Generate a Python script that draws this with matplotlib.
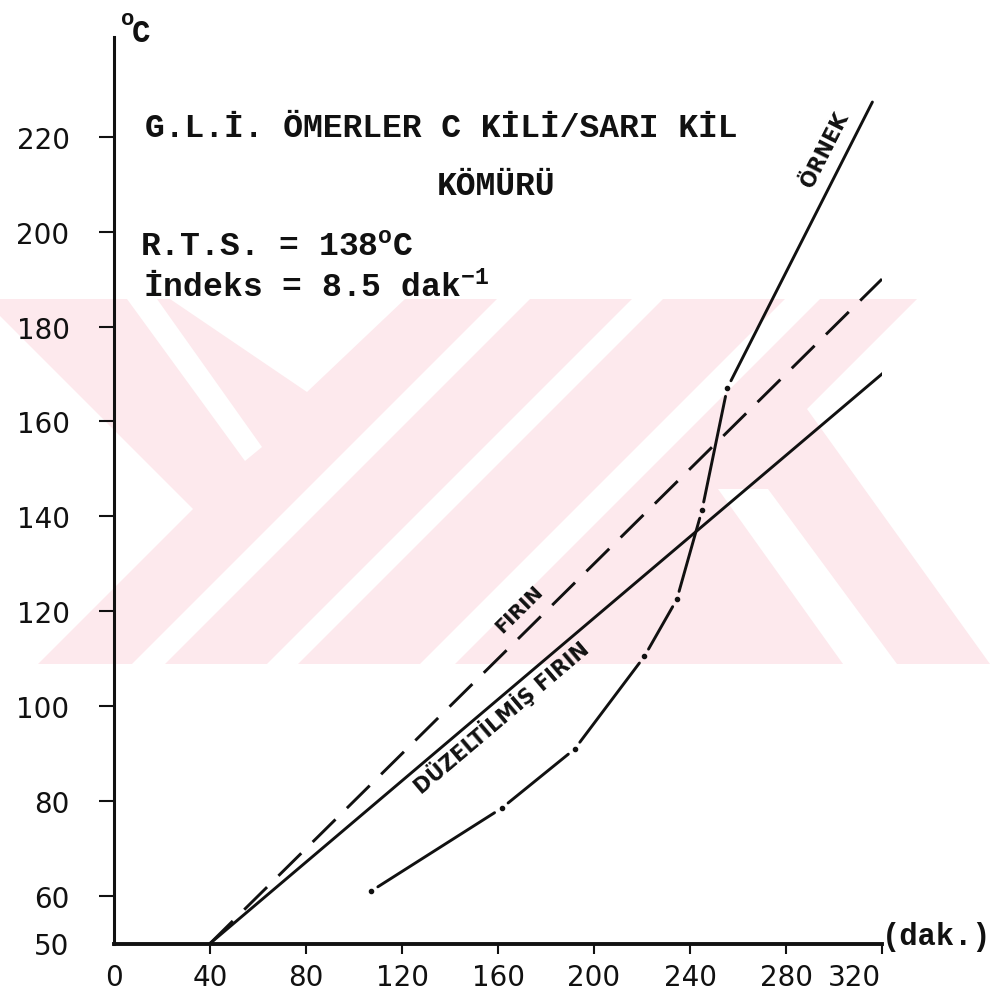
"""Furnace / sample temperature curve (G.L.I. Omerler C kili / sari kil komuru)."""

import numpy as np
import matplotlib
matplotlib.use("Agg")
import matplotlib.pyplot as plt
from matplotlib.patches import Polygon
from matplotlib.transforms import ScaledTranslation

# ── Data ──────────────────────────────────────────────────────────────────
time_ticks = [0, 40, 80, 120, 160, 200, 240, 280, 320]          # dak.
temp_ticks = [50, 60, 80, 100, 120, 140, 160, 180, 200, 220]    # °C

firin_t = [40, 320]
firin_T = [50, 190]

duzeltilmis_t = [40, 320]
duzeltilmis_T = [50, 170]

ornek_t = [107, 161.5, 192, 221, 234.5, 245, 255.5, 316]
ornek_T = [61, 78.5, 91, 110.5, 122.5, 141.3, 167, 227.3]

# ── Style ─────────────────────────────────────────────────────────────────
W, H, DPI = 998, 1003, 100
INK = "#111111"
PINK = "#fde9ed"
MONO = "Liberation Mono"
LW = 2.1

plt.rcParams["mathtext.fontset"] = "custom"
plt.rcParams["mathtext.rm"] = "Liberation Mono:bold"
plt.rcParams["mathtext.it"] = "Liberation Mono:bold"
plt.rcParams["mathtext.bf"] = "Liberation Mono:bold"

# background stamp, in pixels (y down): pink band with white cut-outs
STAMP_BASE = [(0, 300), (917, 300), (807, 410), (990, 665), (0, 665)]
STAMP_GAPS = [
    [(0, 317), (193, 510), (38, 665), (0, 665)],
    [(127, 300), (157, 300), (262, 448), (245, 462)],
    [(170, 300), (405, 300), (307, 393)],
    [(497, 300), (530, 300), (165, 665), (132, 665)],
    [(632, 300), (663, 300), (298, 665), (267, 665)],
    [(785, 300), (820, 300), (455, 665), (420, 665)],
    [(718, 490), (768, 490), (897, 665), (843, 665)],
]

fig = plt.figure(figsize=(W / DPI, H / DPI), dpi=DPI)
fig.patch.set_facecolor("white")

bg = fig.add_axes([0, 0, 1, 1], zorder=0)
bg.set_xlim(0, W)
bg.set_ylim(H, 0)
bg.axis("off")
bg.add_patch(Polygon(STAMP_BASE, closed=True, fc=PINK, ec="none"))
for poly in STAMP_GAPS:
    bg.add_patch(Polygon(poly, closed=True, fc="white", ec="none"))

# axes: x 0..320 -> px 114..882, y 50..241 -> px 944..38
ax = fig.add_axes([114 / W, 1 - 944.5 / H, 768 / W, 906.5 / H], zorder=1)
ax.patch.set_alpha(0)
ax.set_xlim(0, 320)
ax.set_ylim(50, 241)

for side in ("top", "right"):
    ax.spines[side].set_visible(False)
ax.spines["left"].set_linewidth(2.2)
ax.spines["bottom"].set_linewidth(2.8)
ax.spines["left"].set_color(INK)
ax.spines["bottom"].set_color(INK)

ax.set_xticks(time_ticks)
ax.set_xticklabels([str(t) for t in time_ticks])
ax.set_yticks(temp_ticks)
ax.set_yticklabels([str(t) for t in temp_ticks])
ax.tick_params(axis="x", direction="out", length=7, width=1.5, pad=7,
               labelsize=20, colors=INK)
ax.tick_params(axis="y", direction="out", length=11, width=1.5, pad=21,
               labelsize=20, colors=INK)
ax.xaxis.get_major_ticks()[0].tick1line.set_visible(False)
ax.yaxis.get_major_ticks()[0].tick1line.set_visible(False)

# last x label sits a little left of its tick
last = ax.get_xticklabels()[-1]
last.set_transform(last.get_transform()
                   + ScaledTranslation(-20 / 72, 0, fig.dpi_scale_trans))

# ── Curves ────────────────────────────────────────────────────────────────
ax.plot(firin_t, firin_T, color=INK, lw=LW, dashes=(11, 5.5),
        solid_capstyle="butt")
ax.plot(duzeltilmis_t, duzeltilmis_T, color=INK, lw=LW)

# sample curve: chain line broken at each reading with a dot
pts = list(zip(ornek_t, ornek_T))
for i, (p0, p1) in enumerate(zip(pts[:-1], pts[1:])):
    end_gap = 0 if i == len(pts) - 2 else 6
    ax.annotate("", xy=p1, xytext=p0,
                arrowprops=dict(arrowstyle="-", lw=LW, color=INK,
                                shrinkA=6, shrinkB=end_gap))
ax.plot(ornek_t[:-1], ornek_T[:-1], ls="none", marker="o", ms=3.0,
        color=INK)


def _angle(t, T):
    p = ax.transData.transform(np.column_stack([t, T]))
    return np.degrees(np.arctan2(p[-1, 1] - p[-2, 1], p[-1, 0] - p[-2, 0]))


label_kw = dict(family="DejaVu Sans", fontweight="bold", color=INK,
                ha="center", va="center", rotation_mode="anchor")
ax.text(169, 120.6, "FIRIN", fontsize=14,
        rotation=_angle(firin_t, firin_T), **label_kw)
ax.text(161.3, 97.9, "DÜZELTİLMİŞ FIRIN", fontsize=15,
        rotation=_angle(duzeltilmis_t, duzeltilmis_T), **label_kw)
ax.text(296.3, 217.3, "ÖRNEK", fontsize=15,
        rotation=_angle(ornek_t, ornek_T), **label_kw)

# ── Annotations ───────────────────────────────────────────────────────────
mono_kw = dict(family=MONO, fontweight="bold", fontsize=23.8, color=INK,
               transform=ax.transAxes, va="baseline", ha="left")
ax.text(0.0404, 0.8908, "G.L.İ. ÖMERLER C KİLİ/SARI KİL", **mono_kw)
ax.text(0.4206, 0.8268, "KÖMÜRÜ", **mono_kw)
ax.text(0.0339, 0.7584, r"R.T.S. = 138$^{\mathrm{o}}$C", **mono_kw)
ax.text(0.0378, 0.7143, r"İndeks = 8.5 dak$^{\mathrm{-1}}$", **mono_kw)

# axis unit: small raised "o" ahead of the C
unit_kw = dict(family=MONO, fontweight="bold", color=INK,
               transform=ax.transAxes, va="baseline", ha="left", clip_on=False)
ax.text(0.0091, 1.0143, "o", fontsize=16, **unit_kw)
ax.text(0.0234, 0.9956, "C", fontsize=22, **unit_kw)
ax.text(1.0, 0.008, "(dak.)", family=MONO, fontweight="bold", fontsize=22,
        color=INK, transform=ax.transAxes, va="center", ha="left",
        clip_on=False)

fig.savefig("out.png", dpi=DPI, facecolor="white")
